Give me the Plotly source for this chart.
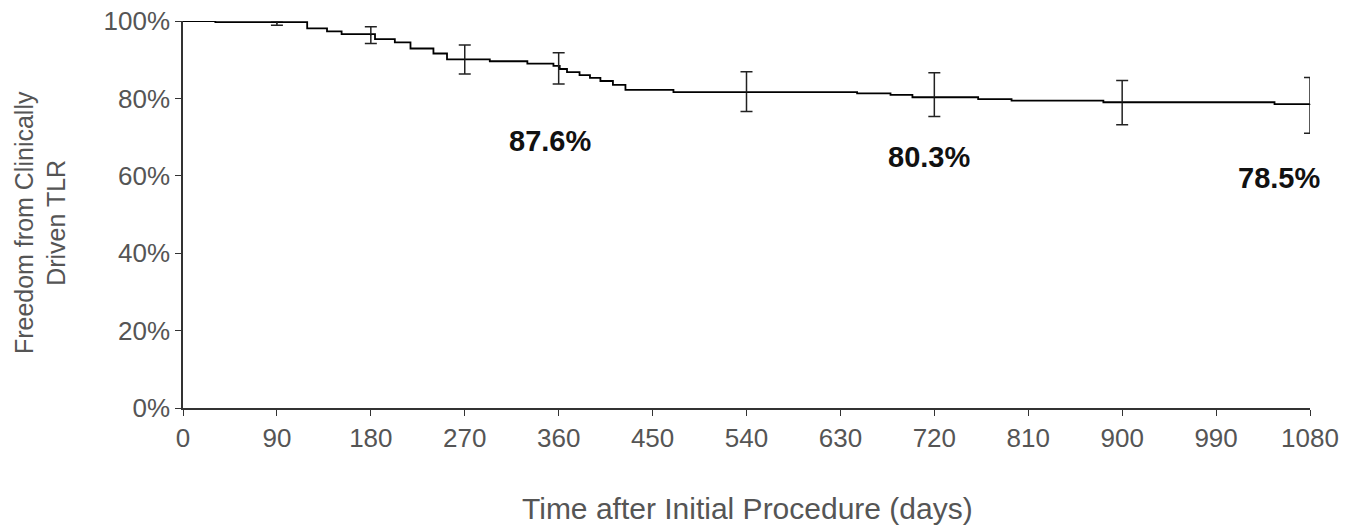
import plotly.graph_objects as go

# Kaplan-Meier step curve (days, % free from TLR)
km_days = [0, 31, 119, 138, 152, 184, 203, 218, 240, 253, 294, 330, 355, 361, 368, 380,
           390, 400, 412, 424, 470, 646, 678, 699, 762, 794, 882, 1046, 1080]
km_pct = [100, 99.7, 98.1, 97.3, 96.6, 95.3, 94.5, 92.9, 91.6, 90.1, 89.6, 89.0, 88.4, 87.6,
          86.8, 86.0, 85.3, 84.5, 83.5, 82.2, 81.6, 81.3, 80.9, 80.3, 79.8, 79.4, 79.0, 78.5, 78.5]

# Confidence intervals at landmark times
ci_days = [90, 180, 270, 360, 540, 720, 900, 1080]
ci_center = [99.4, 96.4, 90.1, 88.0, 81.6, 80.3, 79.0, 78.5]
ci_upper = [100.0, 98.5, 93.8, 91.8, 86.9, 86.6, 84.6, 85.4]
ci_lower = [98.9, 94.2, 86.3, 83.7, 76.6, 75.3, 73.2, 71.0]

# Labelled estimates
label_days = [352, 715, 1050]
label_pct = [69.0, 64.9, 59.4]
label_text = ["87.6%", "80.3%", "78.5%"]

x_ticks = list(range(0, 1081, 90))
y_ticks = [0, 20, 40, 60, 80, 100]
y_tick_text = ["0%", "20%", "40%", "60%", "80%", "100%"]

GRAY = "#555555"
FONT = "Liberation Sans, Arial, sans-serif"

fig = go.Figure()
fig.add_trace(go.Scatter(
    x=km_days, y=km_pct, mode="lines", line=dict(color="black", width=1.8, shape="hv"),
    cliponaxis=False, showlegend=False, hoverinfo="skip"))
fig.add_trace(go.Scatter(
    x=ci_days, y=ci_center, mode="markers", marker=dict(size=1, color="black"),
    error_y=dict(type="data", symmetric=False,
                 array=[u - c for u, c in zip(ci_upper, ci_center)],
                 arrayminus=[c - l for c, l in zip(ci_center, ci_lower)],
                 color="#222222", thickness=1.5, width=6),
    cliponaxis=False, showlegend=False))

for d, p, t in zip(label_days, label_pct, label_text):
    fig.add_annotation(x=d, y=p, text="<b>" + t + "</b>", showarrow=False,
                       xanchor="center", yanchor="middle",
                       font=dict(family=FONT, size=29, color="#111111"))

fig.add_annotation(xref="paper", yref="paper", x=-0.127, y=0.48,
                   xanchor="center", yanchor="middle",
                   text="Freedom from Clinically<br>Driven TLR", textangle=-90,
                   showarrow=False, font=dict(family=FONT, size=25, color=GRAY))
fig.add_annotation(xref="paper", yref="paper", x=0.501, y=-0.26,
                   xanchor="center", yanchor="middle",
                   text="Time after Initial Procedure (days)", showarrow=False,
                   font=dict(family=FONT, size=30, color=GRAY))

fig.update_layout(
    template="none",
    width=1362, height=525,
    margin=dict(l=183, r=52, t=21, b=117, autoexpand=False),
    paper_bgcolor="white", plot_bgcolor="white",
    font=dict(family=FONT, color=GRAY),
)
fig.update_xaxes(range=[0, 1080], tickvals=x_ticks, ticks="outside", ticklen=6,
                 tickcolor="#333333", showline=True, linecolor="#333333", linewidth=1.5,
                 showgrid=False, zeroline=False, automargin=False,
                 tickfont=dict(size=26, color=GRAY))
fig.update_yaxes(range=[0, 100], tickvals=y_ticks, ticktext=y_tick_text, ticks="outside",
                 ticklen=6, tickcolor="#333333", showline=True, linecolor="#333333",
                 linewidth=1.5, showgrid=False, zeroline=False, automargin=False,
                 tickfont=dict(size=26, color=GRAY))

fig.write_html("out.html", config={"displayModeBar": False},
               post_script="document.body.style.margin='0';")
